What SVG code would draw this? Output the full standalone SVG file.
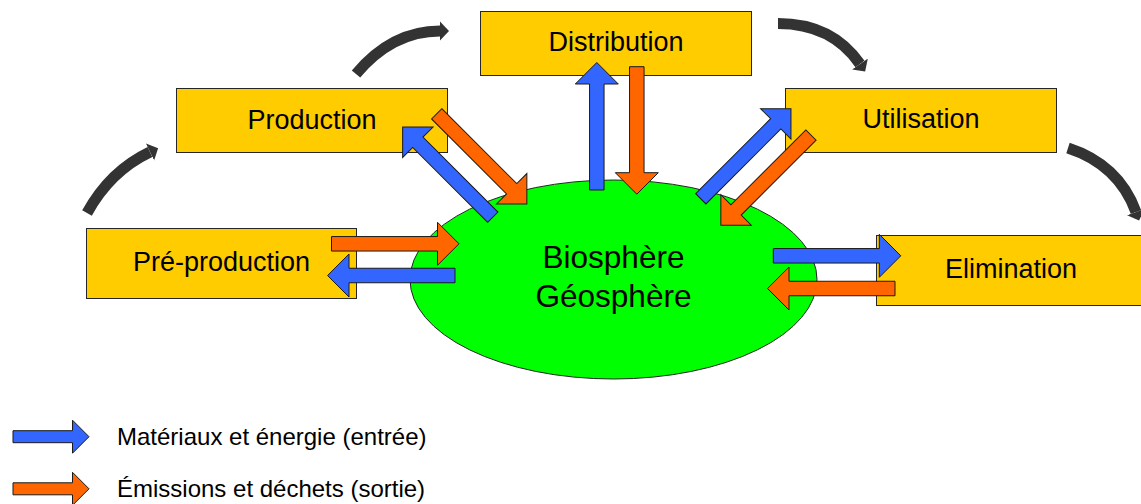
<svg xmlns="http://www.w3.org/2000/svg" xmlns:xlink="http://www.w3.org/1999/xlink" width="1141" height="504" viewBox="0 0 1141 504">
  <style>
    .box { fill: #FFCC00; stroke: #262626; stroke-width: 1; }
    .lbl { font-family: "Liberation Sans", Arial, sans-serif; font-size: 27px; fill: #000; text-anchor: middle; }
    .ctr { font-family: "Liberation Sans", Arial, sans-serif; font-size: 31.5px; fill: #000; text-anchor: middle; }
    .leg { font-family: "Liberation Sans", Arial, sans-serif; font-size: 24px; fill: #000; }
    .blue { fill: #3366FF; stroke: #1a1a1a; stroke-width: 1; }
    .orange { fill: #FF6600; stroke: #1a1a1a; stroke-width: 1; }
    .arc { fill: none; stroke: #333333; stroke-width: 11; stroke-linecap: butt; marker-end: url(#ah); }
  </style>
  <defs>
    <path id="barrow" d="M0,-7.25 H106 V-21.5 L127.5,0 L106,21.5 V7.25 H0 Z"/>
    <path id="larrow" d="M0,-6 H59.5 V-16.5 L76,0 L59.5,16.5 V6 H0 Z"/>
    <marker id="ah" markerUnits="userSpaceOnUse" viewBox="0 0 10 20" refX="0" refY="10" markerWidth="10" markerHeight="20" orient="auto">
      <path d="M0,0.5 L9,10 L0,19.5 Z" fill="#333333"/>
    </marker>
  </defs>

  <g id="biosphere">
    <ellipse cx="613.5" cy="279.5" rx="203.5" ry="99.5" fill="#00FF00" stroke="#262626" stroke-width="1"/>
    <text class="ctr" x="613.5" y="268">Biosphère</text>
    <text class="ctr" x="613.5" y="306.7">Géosphère</text>
  </g>

  <g id="distribution">
    <rect class="box" x="480.5" y="11.5" width="271" height="64"/>
    <text class="lbl" x="616" y="51">Distribution</text>
  </g>
  <g id="production">
    <rect class="box" x="176.5" y="88.5" width="271" height="64"/>
    <text class="lbl" x="312" y="129.3">Production</text>
  </g>
  <g id="pre-production">
    <rect class="box" x="86.5" y="228.5" width="270" height="70"/>
    <text class="lbl" x="221.5" y="270.7">Pré-production</text>
  </g>
  <g id="utilisation">
    <rect class="box" x="785.5" y="88.5" width="271" height="64"/>
    <text class="lbl" x="921" y="128.3">Utilisation</text>
  </g>
  <g id="elimination">
    <rect class="box" x="876.5" y="235.5" width="272" height="70"/>
    <text class="lbl" x="1011" y="278.3">Elimination</text>
  </g>

  <g id="connectors">
    <path class="arc" d="M87,213 Q110,171 150,152"/>
    <path class="arc" d="M356,74 Q392,31 440,31"/>
    <path class="arc" d="M778,23.5 Q832,23.5 860,64"/>
    <path class="arc" d="M1068,148 Q1118.7,164.5 1136,212"/>

    <use xlink:href="#barrow" href="#barrow" class="orange" transform="translate(331.5,243.8)"/>
    <use xlink:href="#barrow" href="#barrow" class="blue" transform="translate(455,275.5) rotate(180)"/>
    <use xlink:href="#barrow" href="#barrow" class="blue" transform="translate(773.3,255.8)"/>
    <use xlink:href="#barrow" href="#barrow" class="orange" transform="translate(895,288.5) rotate(180)"/>
    <use xlink:href="#barrow" href="#barrow" class="blue" transform="translate(596.8,190) rotate(-90)"/>
    <use xlink:href="#barrow" href="#barrow" class="orange" transform="translate(636.8,66.7) rotate(90)"/>
    <use xlink:href="#barrow" href="#barrow" class="blue" transform="translate(492.8,217.2) rotate(-135)"/>
    <use xlink:href="#barrow" href="#barrow" class="orange" transform="translate(436.7,113.8) rotate(45)"/>
    <use xlink:href="#barrow" href="#barrow" class="blue" transform="translate(700.8,198.8) rotate(-45)"/>
    <use xlink:href="#barrow" href="#barrow" class="orange" transform="translate(811,135) rotate(135)"/>
  </g>

  <g id="legend">
    <use xlink:href="#larrow" href="#larrow" class="blue" transform="translate(13,436.7)"/>
    <text class="leg" x="117" y="445">Matériaux et énergie (entrée)</text>
    <use xlink:href="#larrow" href="#larrow" class="orange" transform="translate(13,488.8)"/>
    <text class="leg" x="117" y="496.5">Émissions et déchets (sortie)</text>
  </g>
</svg>
